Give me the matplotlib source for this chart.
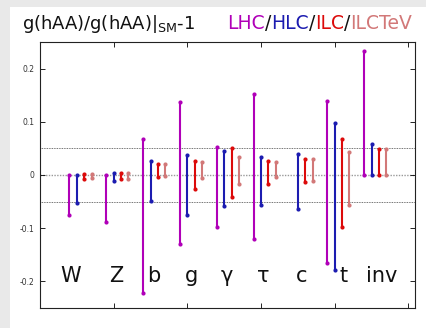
import numpy as np
import matplotlib.pyplot as plt
from matplotlib.patches import Rectangle

# categorie e intervalli (limite inferiore / superiore) per ogni scenario
categories = ["W", "Z", "b", "g", "γ", "τ", "c", "t", "inv"]
series = ["LHC", "HLC", "ILC", "ILCTeV"]
nan = np.nan

lhc_lo = [-0.076, -0.088, -0.222, -0.129, -0.098, -0.121, nan, -0.166, 0.0]
lhc_hi = [0.0, 0.0, 0.068, 0.138, 0.053, 0.153, nan, 0.139, 0.233]
hlc_lo = [-0.052, -0.011, -0.049, -0.076, -0.059, -0.056, -0.064, -0.178, 0.0]
hlc_hi = [0.0, 0.003, 0.027, 0.038, 0.045, 0.034, 0.039, 0.097, 0.059]
ilc_lo = [-0.007, -0.008, -0.003, -0.026, -0.041, -0.016, -0.013, -0.097, 0.0]
ilc_hi = [0.002, 0.003, 0.021, 0.026, 0.050, 0.027, 0.030, 0.068, 0.049]
tev_lo = [-0.006, -0.008, -0.001, -0.006, -0.017, -0.003, -0.012, -0.056, 0.0]
tev_hi = [0.002, 0.003, 0.021, 0.024, 0.033, 0.024, 0.030, 0.043, 0.049]

y_ticks = [-0.2, -0.1, 0, 0.1, 0.2]
y_ticklabels = ["-0.2", "-0.1", "0", "0.1", "0.2"]

colors = ["#b000b8", "#1c1cb0", "#dc0a0a", "#d27878"]
lows = [lhc_lo, hlc_lo, ilc_lo, tev_lo]
highs = [lhc_hi, hlc_hi, ilc_hi, tev_hi]

fig = plt.figure(figsize=(4.27, 3.28), dpi=100)
fig.patch.set_facecolor("#e9e9e9")
fig.add_artist(Rectangle((10 / 427, 0), 1, 1 - 7 / 328, transform=fig.transFigure,
                         facecolor="white", edgecolor="none", zorder=-1))

ax = fig.add_axes([40 / 427, 1 - 308 / 328, 375 / 427, 266 / 328])
ax.set_xlim(0, 5.09)
ax.set_ylim(-0.25, 0.25)

# linee di riferimento
ax.axhline(0, color="#999999", lw=1.0, ls=(0, (1, 1)), zorder=1)
for yl in (0.05, -0.05):
    ax.axhline(yl, color="#444444", lw=0.6, ls=(0, (1, 1)), zorder=1)

k = np.arange(len(categories))
for j in range(4):
    x = 0.4 + 0.5 * k + 0.1 * j
    lo = np.array(lows[j])
    hi = np.array(highs[j])
    ax.vlines(x, lo, hi, color=colors[j], lw=1.5, zorder=3)
    ax.plot(x, lo, "o", color=colors[j], ms=3, mew=0, zorder=4)
    ax.plot(x, hi, "o", color=colors[j], ms=3, mew=0, zorder=4)

label_dx = [-0.09, 0.04, 0.04, 0.06, 0.04, 0.03, 0.05, 0.12, 0.14]
for i, name in enumerate(categories):
    ax.text(0.5 + 0.5 * i + label_dx[i], -0.19, name, ha="center", va="center",
            fontsize=15, color="#111111")

ax.set_xticks([1, 2, 3, 4, 5])
ax.set_xticklabels([])
ax.set_yticks(y_ticks)
ax.set_yticklabels(y_ticklabels)
ax.tick_params(direction="in", length=3.5, width=0.6, top=True, right=True,
               labelsize=5.5, labelcolor="#333333", pad=4)
for s in ax.spines.values():
    s.set_linewidth(0.8)
    s.set_color("#222222")

# titolo composto a pezzi colorati
yb = 1 - 29 / 328
fig.text(22 / 427, yb, r"g(hAA)/g(hAA)|$_\mathrm{SM}$-1", fontsize=13,
         va="baseline", ha="left", color="#111111")
parts = [("LHC", colors[0]), ("/", "#111111"), ("HLC", colors[1]), ("/", "#111111"),
         ("ILC", colors[2]), ("/", "#111111"), ("ILCTeV", colors[3])]
prev = fig.text(227 / 427, yb, parts[0][0], fontsize=13.5, va="baseline",
                ha="left", color=parts[0][1])
for txt, col in parts[1:]:
    prev = ax.annotate(txt, xy=(1, 0), xycoords=prev, fontsize=13.5, color=col,
                       va="bottom", ha="left", annotation_clip=False)

plt.savefig("out.png", dpi=100)
